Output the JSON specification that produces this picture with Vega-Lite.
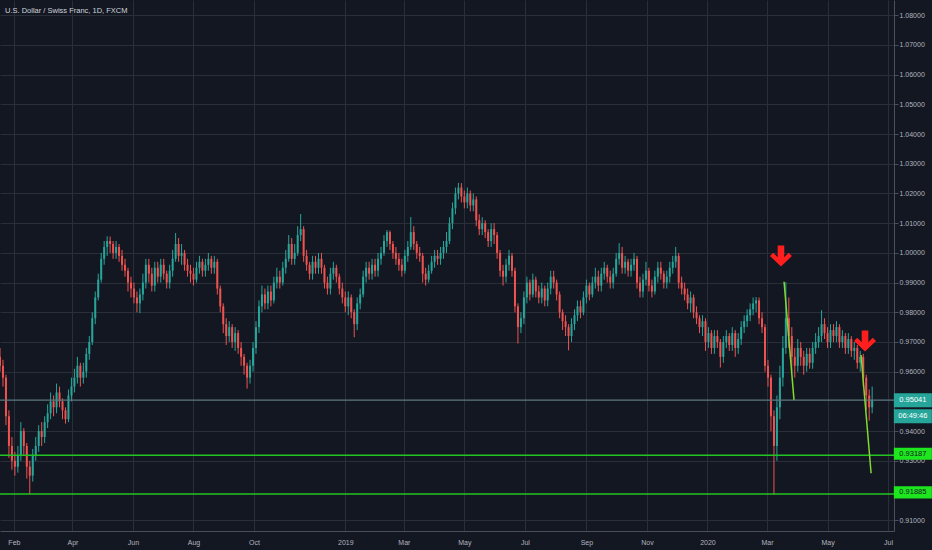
{
"$schema":"https://vega.github.io/schema/vega-lite/v6.json",
"width":894,"height":531,
"autosize":{"type":"none"},
"padding":{"left":0,"top":0,"right":38,"bottom":19},
"background":"#131722",
"config":{"view":{"stroke":null},"font":"Liberation Sans","axis":{"labelOverlap":false,"labelSeparation":0}},
"datasets":{
"candles":[
{"d":"2018-01-18","o":0.965,"h":0.968,"l":0.96,"c":0.962},
{"d":"2018-01-21","o":0.962,"h":0.964,"l":0.955,"c":0.958},
{"d":"2018-01-24","o":0.958,"h":0.959,"l":0.942,"c":0.945},
{"d":"2018-01-27","o":0.945,"h":0.947,"l":0.931,"c":0.935},
{"d":"2018-01-30","o":0.935,"h":0.938,"l":0.927,"c":0.93},
{"d":"2018-02-02","o":0.93,"h":0.933,"l":0.925,"c":0.928},
{"d":"2018-02-05","o":0.928,"h":0.935,"l":0.926,"c":0.932},
{"d":"2018-02-08","o":0.932,"h":0.943,"l":0.93,"c":0.94},
{"d":"2018-02-11","o":0.94,"h":0.941,"l":0.932,"c":0.935},
{"d":"2018-02-14","o":0.935,"h":0.936,"l":0.924,"c":0.928},
{"d":"2018-02-17","o":0.928,"h":0.93,"l":0.9188,"c":0.925},
{"d":"2018-02-20","o":0.925,"h":0.934,"l":0.923,"c":0.932},
{"d":"2018-02-23","o":0.932,"h":0.938,"l":0.93,"c":0.935},
{"d":"2018-02-26","o":0.935,"h":0.942,"l":0.933,"c":0.94},
{"d":"2018-03-01","o":0.94,"h":0.943,"l":0.935,"c":0.938},
{"d":"2018-03-04","o":0.938,"h":0.945,"l":0.936,"c":0.943},
{"d":"2018-03-07","o":0.943,"h":0.949,"l":0.941,"c":0.946},
{"d":"2018-03-10","o":0.946,"h":0.953,"l":0.944,"c":0.95},
{"d":"2018-03-13","o":0.95,"h":0.952,"l":0.945,"c":0.948},
{"d":"2018-03-16","o":0.948,"h":0.956,"l":0.946,"c":0.953},
{"d":"2018-03-19","o":0.953,"h":0.955,"l":0.948,"c":0.95},
{"d":"2018-03-22","o":0.95,"h":0.951,"l":0.944,"c":0.947},
{"d":"2018-03-25","o":0.947,"h":0.948,"l":0.9425,"c":0.944},
{"d":"2018-03-28","o":0.944,"h":0.954,"l":0.943,"c":0.952},
{"d":"2018-03-31","o":0.952,"h":0.958,"l":0.95,"c":0.955},
{"d":"2018-04-03","o":0.955,"h":0.961,"l":0.953,"c":0.958},
{"d":"2018-04-06","o":0.958,"h":0.965,"l":0.956,"c":0.962},
{"d":"2018-04-09","o":0.962,"h":0.963,"l":0.955,"c":0.958},
{"d":"2018-04-12","o":0.958,"h":0.963,"l":0.956,"c":0.96},
{"d":"2018-04-15","o":0.96,"h":0.968,"l":0.958,"c":0.966},
{"d":"2018-04-18","o":0.966,"h":0.972,"l":0.964,"c":0.97},
{"d":"2018-04-21","o":0.97,"h":0.98,"l":0.969,"c":0.978},
{"d":"2018-04-24","o":0.978,"h":0.987,"l":0.976,"c":0.985},
{"d":"2018-04-27","o":0.985,"h":0.993,"l":0.984,"c":0.991},
{"d":"2018-04-30","o":0.991,"h":1.0,"l":0.99,"c":0.998},
{"d":"2018-05-03","o":0.998,"h":1.004,"l":0.996,"c":1.002},
{"d":"2018-05-06","o":1.002,"h":1.0056,"l":0.999,"c":1.004},
{"d":"2018-05-09","o":1.004,"h":1.0055,"l":1.0,"c":1.003},
{"d":"2018-05-12","o":1.003,"h":1.004,"l":0.998,"c":1.0},
{"d":"2018-05-15","o":1.0,"h":1.004,"l":0.998,"c":1.002},
{"d":"2018-05-18","o":1.002,"h":1.003,"l":0.997,"c":0.999},
{"d":"2018-05-21","o":0.999,"h":1.001,"l":0.994,"c":0.996},
{"d":"2018-05-24","o":0.996,"h":0.998,"l":0.992,"c":0.994},
{"d":"2018-05-27","o":0.994,"h":0.995,"l":0.987,"c":0.99},
{"d":"2018-05-30","o":0.99,"h":0.992,"l":0.985,"c":0.988},
{"d":"2018-06-02","o":0.988,"h":0.99,"l":0.983,"c":0.985},
{"d":"2018-06-05","o":0.985,"h":0.987,"l":0.98,"c":0.983},
{"d":"2018-06-08","o":0.983,"h":0.988,"l":0.9797,"c":0.986},
{"d":"2018-06-11","o":0.986,"h":0.993,"l":0.984,"c":0.99},
{"d":"2018-06-14","o":0.99,"h":0.998,"l":0.988,"c":0.996},
{"d":"2018-06-17","o":0.996,"h":0.998,"l":0.99,"c":0.993},
{"d":"2018-06-20","o":0.993,"h":0.995,"l":0.987,"c":0.989},
{"d":"2018-06-23","o":0.989,"h":0.997,"l":0.987,"c":0.995},
{"d":"2018-06-26","o":0.995,"h":0.997,"l":0.99,"c":0.992},
{"d":"2018-06-29","o":0.992,"h":0.998,"l":0.99,"c":0.996},
{"d":"2018-07-02","o":0.996,"h":0.998,"l":0.991,"c":0.993},
{"d":"2018-07-05","o":0.993,"h":0.994,"l":0.988,"c":0.99},
{"d":"2018-07-08","o":0.99,"h":0.996,"l":0.988,"c":0.994},
{"d":"2018-07-11","o":0.994,"h":1.001,"l":0.992,"c":0.998},
{"d":"2018-07-14","o":0.998,"h":1.0067,"l":0.997,"c":1.003},
{"d":"2018-07-17","o":1.003,"h":1.005,"l":0.997,"c":0.999},
{"d":"2018-07-20","o":0.999,"h":1.003,"l":0.996,"c":1.0},
{"d":"2018-07-23","o":1.0,"h":1.001,"l":0.994,"c":0.996},
{"d":"2018-07-26","o":0.996,"h":0.998,"l":0.992,"c":0.994},
{"d":"2018-07-29","o":0.994,"h":0.996,"l":0.99,"c":0.993},
{"d":"2018-08-01","o":0.993,"h":0.995,"l":0.989,"c":0.991},
{"d":"2018-08-04","o":0.991,"h":0.997,"l":0.99,"c":0.995},
{"d":"2018-08-07","o":0.995,"h":0.999,"l":0.993,"c":0.997},
{"d":"2018-08-10","o":0.997,"h":0.998,"l":0.992,"c":0.994},
{"d":"2018-08-13","o":0.994,"h":0.998,"l":0.992,"c":0.996},
{"d":"2018-08-16","o":0.996,"h":1.0,"l":0.994,"c":0.998},
{"d":"2018-08-19","o":0.998,"h":0.999,"l":0.993,"c":0.995},
{"d":"2018-08-22","o":0.995,"h":0.999,"l":0.993,"c":0.997},
{"d":"2018-08-25","o":0.997,"h":0.998,"l":0.986,"c":0.988},
{"d":"2018-08-28","o":0.988,"h":0.989,"l":0.98,"c":0.982},
{"d":"2018-08-31","o":0.982,"h":0.983,"l":0.973,"c":0.976},
{"d":"2018-09-03","o":0.976,"h":0.978,"l":0.969,"c":0.972},
{"d":"2018-09-06","o":0.972,"h":0.977,"l":0.97,"c":0.975},
{"d":"2018-09-09","o":0.975,"h":0.976,"l":0.968,"c":0.97},
{"d":"2018-09-12","o":0.97,"h":0.975,"l":0.967,"c":0.973},
{"d":"2018-09-15","o":0.973,"h":0.974,"l":0.966,"c":0.968},
{"d":"2018-09-18","o":0.968,"h":0.97,"l":0.962,"c":0.965},
{"d":"2018-09-21","o":0.965,"h":0.966,"l":0.959,"c":0.962},
{"d":"2018-09-24","o":0.962,"h":0.963,"l":0.9543,"c":0.958},
{"d":"2018-09-27","o":0.958,"h":0.964,"l":0.956,"c":0.962},
{"d":"2018-09-30","o":0.962,"h":0.97,"l":0.96,"c":0.968},
{"d":"2018-10-03","o":0.968,"h":0.977,"l":0.966,"c":0.975},
{"d":"2018-10-06","o":0.975,"h":0.984,"l":0.973,"c":0.982},
{"d":"2018-10-09","o":0.982,"h":0.989,"l":0.98,"c":0.986},
{"d":"2018-10-12","o":0.986,"h":0.988,"l":0.981,"c":0.983},
{"d":"2018-10-15","o":0.983,"h":0.989,"l":0.981,"c":0.987},
{"d":"2018-10-18","o":0.987,"h":0.989,"l":0.982,"c":0.984},
{"d":"2018-10-21","o":0.984,"h":0.992,"l":0.983,"c":0.99},
{"d":"2018-10-24","o":0.99,"h":0.995,"l":0.988,"c":0.992},
{"d":"2018-10-27","o":0.992,"h":0.994,"l":0.988,"c":0.99},
{"d":"2018-10-30","o":0.99,"h":0.997,"l":0.989,"c":0.995},
{"d":"2018-11-02","o":0.995,"h":1.001,"l":0.993,"c":0.998},
{"d":"2018-11-05","o":0.998,"h":1.006,"l":0.997,"c":1.003},
{"d":"2018-11-08","o":1.003,"h":1.005,"l":0.996,"c":0.998},
{"d":"2018-11-11","o":0.998,"h":1.003,"l":0.996,"c":1.0},
{"d":"2018-11-14","o":1.0,"h":1.009,"l":0.999,"c":1.006},
{"d":"2018-11-17","o":1.006,"h":1.0131,"l":1.004,"c":1.008},
{"d":"2018-11-20","o":1.008,"h":1.009,"l":0.997,"c":0.999},
{"d":"2018-11-23","o":0.999,"h":1.001,"l":0.994,"c":0.996},
{"d":"2018-11-26","o":0.996,"h":0.997,"l":0.991,"c":0.993},
{"d":"2018-11-29","o":0.993,"h":0.999,"l":0.991,"c":0.997},
{"d":"2018-12-02","o":0.997,"h":0.999,"l":0.993,"c":0.995},
{"d":"2018-12-05","o":0.995,"h":1.0,"l":0.993,"c":0.998},
{"d":"2018-12-08","o":0.998,"h":1.0,"l":0.993,"c":0.995},
{"d":"2018-12-11","o":0.995,"h":0.996,"l":0.988,"c":0.99},
{"d":"2018-12-14","o":0.99,"h":0.992,"l":0.986,"c":0.988},
{"d":"2018-12-17","o":0.988,"h":0.995,"l":0.986,"c":0.993},
{"d":"2018-12-20","o":0.993,"h":0.997,"l":0.991,"c":0.995},
{"d":"2018-12-23","o":0.995,"h":0.996,"l":0.99,"c":0.992},
{"d":"2018-12-26","o":0.992,"h":0.993,"l":0.986,"c":0.988},
{"d":"2018-12-29","o":0.988,"h":0.99,"l":0.983,"c":0.985},
{"d":"2019-01-01","o":0.985,"h":0.987,"l":0.98,"c":0.982},
{"d":"2019-01-04","o":0.982,"h":0.987,"l":0.979,"c":0.985},
{"d":"2019-01-07","o":0.985,"h":0.986,"l":0.978,"c":0.98},
{"d":"2019-01-10","o":0.98,"h":0.981,"l":0.9716,"c":0.976},
{"d":"2019-01-13","o":0.976,"h":0.985,"l":0.974,"c":0.983},
{"d":"2019-01-16","o":0.983,"h":0.988,"l":0.981,"c":0.986},
{"d":"2019-01-19","o":0.986,"h":0.994,"l":0.985,"c":0.992},
{"d":"2019-01-22","o":0.992,"h":0.997,"l":0.99,"c":0.995},
{"d":"2019-01-25","o":0.995,"h":0.997,"l":0.991,"c":0.993},
{"d":"2019-01-28","o":0.993,"h":0.998,"l":0.991,"c":0.996},
{"d":"2019-01-31","o":0.996,"h":0.998,"l":0.992,"c":0.994},
{"d":"2019-02-03","o":0.994,"h":1.0,"l":0.992,"c":0.998},
{"d":"2019-02-06","o":0.998,"h":1.002,"l":0.996,"c":1.0},
{"d":"2019-02-09","o":1.0,"h":1.006,"l":0.999,"c":1.004},
{"d":"2019-02-12","o":1.004,"h":1.0077,"l":1.002,"c":1.007},
{"d":"2019-02-15","o":1.007,"h":1.0075,"l":1.001,"c":1.003},
{"d":"2019-02-18","o":1.003,"h":1.004,"l":0.998,"c":1.0},
{"d":"2019-02-21","o":1.0,"h":1.002,"l":0.996,"c":0.998},
{"d":"2019-02-24","o":0.998,"h":1.0,"l":0.994,"c":0.996},
{"d":"2019-02-27","o":0.996,"h":0.998,"l":0.992,"c":0.994},
{"d":"2019-03-02","o":0.994,"h":1.001,"l":0.993,"c":0.999},
{"d":"2019-03-05","o":0.999,"h":1.004,"l":0.997,"c":1.002},
{"d":"2019-03-08","o":1.002,"h":1.0121,"l":1.001,"c":1.007},
{"d":"2019-03-11","o":1.007,"h":1.009,"l":1.001,"c":1.003},
{"d":"2019-03-14","o":1.003,"h":1.004,"l":0.998,"c":1.0},
{"d":"2019-03-17","o":1.0,"h":1.002,"l":0.997,"c":0.999},
{"d":"2019-03-20","o":0.999,"h":1.0,"l":0.99,"c":0.993},
{"d":"2019-03-23","o":0.993,"h":0.995,"l":0.989,"c":0.991},
{"d":"2019-03-26","o":0.991,"h":0.996,"l":0.99,"c":0.994},
{"d":"2019-03-29","o":0.994,"h":0.999,"l":0.993,"c":0.997},
{"d":"2019-04-01","o":0.997,"h":1.001,"l":0.995,"c":0.999},
{"d":"2019-04-04","o":0.999,"h":1.001,"l":0.996,"c":0.998},
{"d":"2019-04-07","o":0.998,"h":1.002,"l":0.996,"c":1.0},
{"d":"2019-04-10","o":1.0,"h":1.004,"l":0.998,"c":1.002},
{"d":"2019-04-13","o":1.002,"h":1.007,"l":1.0,"c":1.004},
{"d":"2019-04-16","o":1.004,"h":1.012,"l":1.003,"c":1.01},
{"d":"2019-04-19","o":1.01,"h":1.017,"l":1.008,"c":1.015},
{"d":"2019-04-22","o":1.015,"h":1.022,"l":1.013,"c":1.02},
{"d":"2019-04-25","o":1.02,"h":1.0236,"l":1.018,"c":1.022},
{"d":"2019-04-28","o":1.022,"h":1.0235,"l":1.017,"c":1.019},
{"d":"2019-05-01","o":1.019,"h":1.021,"l":1.015,"c":1.017},
{"d":"2019-05-04","o":1.017,"h":1.022,"l":1.015,"c":1.02},
{"d":"2019-05-07","o":1.02,"h":1.021,"l":1.014,"c":1.016},
{"d":"2019-05-10","o":1.016,"h":1.02,"l":1.014,"c":1.018},
{"d":"2019-05-13","o":1.018,"h":1.019,"l":1.009,"c":1.011},
{"d":"2019-05-16","o":1.011,"h":1.013,"l":1.006,"c":1.008},
{"d":"2019-05-19","o":1.008,"h":1.012,"l":1.006,"c":1.01},
{"d":"2019-05-22","o":1.01,"h":1.011,"l":1.005,"c":1.007},
{"d":"2019-05-25","o":1.007,"h":1.008,"l":1.002,"c":1.004},
{"d":"2019-05-28","o":1.004,"h":1.01,"l":1.002,"c":1.008},
{"d":"2019-05-31","o":1.008,"h":1.01,"l":1.003,"c":1.006},
{"d":"2019-06-03","o":1.006,"h":1.007,"l":0.998,"c":1.0},
{"d":"2019-06-06","o":1.0,"h":1.001,"l":0.992,"c":0.994},
{"d":"2019-06-09","o":0.994,"h":0.996,"l":0.989,"c":0.992},
{"d":"2019-06-12","o":0.992,"h":0.998,"l":0.99,"c":0.996},
{"d":"2019-06-15","o":0.996,"h":1.001,"l":0.994,"c":0.999},
{"d":"2019-06-18","o":0.999,"h":1.0,"l":0.992,"c":0.994},
{"d":"2019-06-21","o":0.994,"h":0.995,"l":0.98,"c":0.982},
{"d":"2019-06-24","o":0.982,"h":0.983,"l":0.9695,"c":0.975},
{"d":"2019-06-27","o":0.975,"h":0.98,"l":0.973,"c":0.978},
{"d":"2019-06-30","o":0.978,"h":0.987,"l":0.976,"c":0.985},
{"d":"2019-07-03","o":0.985,"h":0.992,"l":0.983,"c":0.99},
{"d":"2019-07-06","o":0.99,"h":0.991,"l":0.984,"c":0.986},
{"d":"2019-07-09","o":0.986,"h":0.993,"l":0.985,"c":0.991},
{"d":"2019-07-12","o":0.991,"h":0.992,"l":0.985,"c":0.987},
{"d":"2019-07-15","o":0.987,"h":0.989,"l":0.983,"c":0.985},
{"d":"2019-07-18","o":0.985,"h":0.99,"l":0.983,"c":0.988},
{"d":"2019-07-21","o":0.988,"h":0.989,"l":0.982,"c":0.984},
{"d":"2019-07-24","o":0.984,"h":0.99,"l":0.982,"c":0.988},
{"d":"2019-07-27","o":0.988,"h":0.994,"l":0.986,"c":0.992},
{"d":"2019-07-30","o":0.992,"h":0.994,"l":0.988,"c":0.99},
{"d":"2019-08-02","o":0.99,"h":0.991,"l":0.984,"c":0.986},
{"d":"2019-08-05","o":0.986,"h":0.987,"l":0.978,"c":0.98},
{"d":"2019-08-08","o":0.98,"h":0.981,"l":0.974,"c":0.977},
{"d":"2019-08-11","o":0.977,"h":0.979,"l":0.972,"c":0.975},
{"d":"2019-08-14","o":0.975,"h":0.976,"l":0.9672,"c":0.972},
{"d":"2019-08-17","o":0.972,"h":0.978,"l":0.97,"c":0.976},
{"d":"2019-08-20","o":0.976,"h":0.981,"l":0.974,"c":0.979},
{"d":"2019-08-23","o":0.979,"h":0.984,"l":0.977,"c":0.982},
{"d":"2019-08-26","o":0.982,"h":0.984,"l":0.978,"c":0.98},
{"d":"2019-08-29","o":0.98,"h":0.987,"l":0.979,"c":0.985},
{"d":"2019-09-01","o":0.985,"h":0.991,"l":0.983,"c":0.989},
{"d":"2019-09-04","o":0.989,"h":0.99,"l":0.984,"c":0.986},
{"d":"2019-09-07","o":0.986,"h":0.992,"l":0.985,"c":0.99},
{"d":"2019-09-10","o":0.99,"h":0.995,"l":0.988,"c":0.992},
{"d":"2019-09-13","o":0.992,"h":0.994,"l":0.987,"c":0.989},
{"d":"2019-09-16","o":0.989,"h":0.995,"l":0.987,"c":0.993},
{"d":"2019-09-19","o":0.993,"h":0.997,"l":0.991,"c":0.995},
{"d":"2019-09-22","o":0.995,"h":0.996,"l":0.99,"c":0.992},
{"d":"2019-09-25","o":0.992,"h":0.994,"l":0.988,"c":0.99},
{"d":"2019-09-28","o":0.99,"h":0.995,"l":0.988,"c":0.993},
{"d":"2019-10-01","o":0.993,"h":1.0,"l":0.992,"c":0.998},
{"d":"2019-10-04","o":0.998,"h":1.0033,"l":0.996,"c":1.0},
{"d":"2019-10-07","o":1.0,"h":1.002,"l":0.993,"c":0.995},
{"d":"2019-10-10","o":0.995,"h":0.999,"l":0.993,"c":0.997},
{"d":"2019-10-13","o":0.997,"h":0.998,"l":0.992,"c":0.994},
{"d":"2019-10-16","o":0.994,"h":0.998,"l":0.992,"c":0.996},
{"d":"2019-10-19","o":0.996,"h":1.0,"l":0.994,"c":0.998},
{"d":"2019-10-22","o":0.998,"h":0.999,"l":0.988,"c":0.99},
{"d":"2019-10-25","o":0.99,"h":0.992,"l":0.985,"c":0.987},
{"d":"2019-10-28","o":0.987,"h":0.993,"l":0.985,"c":0.991},
{"d":"2019-10-31","o":0.991,"h":0.997,"l":0.989,"c":0.994},
{"d":"2019-11-03","o":0.994,"h":0.995,"l":0.987,"c":0.989},
{"d":"2019-11-06","o":0.989,"h":0.991,"l":0.985,"c":0.987},
{"d":"2019-11-09","o":0.987,"h":0.994,"l":0.986,"c":0.992},
{"d":"2019-11-12","o":0.992,"h":0.997,"l":0.99,"c":0.995},
{"d":"2019-11-15","o":0.995,"h":0.997,"l":0.991,"c":0.993},
{"d":"2019-11-18","o":0.993,"h":0.994,"l":0.988,"c":0.99},
{"d":"2019-11-21","o":0.99,"h":0.994,"l":0.988,"c":0.992},
{"d":"2019-11-24","o":0.992,"h":0.997,"l":0.99,"c":0.995},
{"d":"2019-11-27","o":0.995,"h":0.999,"l":0.993,"c":0.997},
{"d":"2019-11-30","o":0.997,"h":1.002,"l":0.995,"c":0.999},
{"d":"2019-12-03","o":0.999,"h":1.0,"l":0.988,"c":0.99},
{"d":"2019-12-06","o":0.99,"h":0.992,"l":0.986,"c":0.988},
{"d":"2019-12-09","o":0.988,"h":0.99,"l":0.984,"c":0.986},
{"d":"2019-12-12","o":0.986,"h":0.988,"l":0.981,"c":0.983},
{"d":"2019-12-15","o":0.983,"h":0.987,"l":0.98,"c":0.985},
{"d":"2019-12-18","o":0.985,"h":0.986,"l":0.978,"c":0.98},
{"d":"2019-12-21","o":0.98,"h":0.982,"l":0.976,"c":0.978},
{"d":"2019-12-24","o":0.978,"h":0.979,"l":0.973,"c":0.975},
{"d":"2019-12-27","o":0.975,"h":0.979,"l":0.972,"c":0.977},
{"d":"2019-12-30","o":0.977,"h":0.978,"l":0.967,"c":0.97},
{"d":"2020-01-02","o":0.97,"h":0.975,"l":0.968,"c":0.973},
{"d":"2020-01-05","o":0.973,"h":0.974,"l":0.966,"c":0.968},
{"d":"2020-01-08","o":0.968,"h":0.974,"l":0.966,"c":0.972},
{"d":"2020-01-11","o":0.972,"h":0.974,"l":0.968,"c":0.97},
{"d":"2020-01-14","o":0.97,"h":0.971,"l":0.9614,"c":0.965},
{"d":"2020-01-17","o":0.965,"h":0.972,"l":0.963,"c":0.97},
{"d":"2020-01-20","o":0.97,"h":0.974,"l":0.968,"c":0.972},
{"d":"2020-01-23","o":0.972,"h":0.973,"l":0.967,"c":0.969},
{"d":"2020-01-26","o":0.969,"h":0.975,"l":0.967,"c":0.973},
{"d":"2020-01-29","o":0.973,"h":0.974,"l":0.965,"c":0.968},
{"d":"2020-02-01","o":0.968,"h":0.973,"l":0.966,"c":0.971},
{"d":"2020-02-04","o":0.971,"h":0.977,"l":0.969,"c":0.975},
{"d":"2020-02-07","o":0.975,"h":0.979,"l":0.973,"c":0.977},
{"d":"2020-02-10","o":0.977,"h":0.981,"l":0.975,"c":0.979},
{"d":"2020-02-13","o":0.979,"h":0.983,"l":0.977,"c":0.981},
{"d":"2020-02-16","o":0.981,"h":0.985,"l":0.979,"c":0.983},
{"d":"2020-02-19","o":0.983,"h":0.9851,"l":0.98,"c":0.984},
{"d":"2020-02-22","o":0.984,"h":0.985,"l":0.976,"c":0.978},
{"d":"2020-02-25","o":0.978,"h":0.98,"l":0.973,"c":0.975},
{"d":"2020-02-28","o":0.975,"h":0.976,"l":0.96,"c":0.962},
{"d":"2020-03-02","o":0.962,"h":0.964,"l":0.955,"c":0.958},
{"d":"2020-03-05","o":0.958,"h":0.959,"l":0.94,"c":0.945},
{"d":"2020-03-08","o":0.945,"h":0.947,"l":0.9185,"c":0.935},
{"d":"2020-03-11","o":0.935,"h":0.952,"l":0.93,"c":0.948},
{"d":"2020-03-14","o":0.948,"h":0.962,"l":0.944,"c":0.958},
{"d":"2020-03-17","o":0.958,"h":0.972,"l":0.955,"c":0.968},
{"d":"2020-03-20","o":0.968,"h":0.9901,"l":0.966,"c":0.978},
{"d":"2020-03-23","o":0.978,"h":0.985,"l":0.968,"c":0.972},
{"d":"2020-03-26","o":0.972,"h":0.975,"l":0.96,"c":0.965},
{"d":"2020-03-29","o":0.965,"h":0.968,"l":0.958,"c":0.962},
{"d":"2020-04-01","o":0.962,"h":0.971,"l":0.96,"c":0.968},
{"d":"2020-04-04","o":0.968,"h":0.97,"l":0.962,"c":0.965},
{"d":"2020-04-07","o":0.965,"h":0.967,"l":0.959,"c":0.962},
{"d":"2020-04-10","o":0.962,"h":0.968,"l":0.96,"c":0.966},
{"d":"2020-04-13","o":0.966,"h":0.968,"l":0.961,"c":0.963},
{"d":"2020-04-16","o":0.963,"h":0.97,"l":0.961,"c":0.968},
{"d":"2020-04-19","o":0.968,"h":0.973,"l":0.966,"c":0.97},
{"d":"2020-04-22","o":0.97,"h":0.975,"l":0.968,"c":0.972},
{"d":"2020-04-25","o":0.972,"h":0.9807,"l":0.97,"c":0.976},
{"d":"2020-04-28","o":0.976,"h":0.978,"l":0.971,"c":0.973},
{"d":"2020-05-01","o":0.973,"h":0.975,"l":0.968,"c":0.97},
{"d":"2020-05-04","o":0.97,"h":0.976,"l":0.968,"c":0.974},
{"d":"2020-05-07","o":0.974,"h":0.976,"l":0.97,"c":0.972},
{"d":"2020-05-10","o":0.972,"h":0.977,"l":0.97,"c":0.975},
{"d":"2020-05-13","o":0.975,"h":0.976,"l":0.968,"c":0.97},
{"d":"2020-05-16","o":0.97,"h":0.974,"l":0.968,"c":0.972},
{"d":"2020-05-19","o":0.972,"h":0.973,"l":0.966,"c":0.968},
{"d":"2020-05-22","o":0.968,"h":0.973,"l":0.966,"c":0.971},
{"d":"2020-05-25","o":0.971,"h":0.972,"l":0.965,"c":0.967},
{"d":"2020-05-28","o":0.967,"h":0.97,"l":0.964,"c":0.968},
{"d":"2020-05-31","o":0.968,"h":0.969,"l":0.961,"c":0.963},
{"d":"2020-06-03","o":0.963,"h":0.967,"l":0.96,"c":0.965},
{"d":"2020-06-06","o":0.965,"h":0.966,"l":0.955,"c":0.958},
{"d":"2020-06-09","o":0.958,"h":0.959,"l":0.947,"c":0.952},
{"d":"2020-06-12","o":0.952,"h":0.954,"l":0.9435,"c":0.948},
{"d":"2020-06-15","o":0.948,"h":0.955,"l":0.946,"c":0.95041}
],
"last":[{"p":0.95041,"t":"0.95041","cd":"06:49:46"}],
"levels":[{"p":0.93187,"t":"0.93187"},{"p":0.91885,"t":"0.91885"}],
"trend":[
{"g":1,"d":"2020-03-18T05:00:00","p":0.9903},
{"g":1,"d":"2020-03-28T05:00:00","p":0.9505},
{"g":2,"d":"2020-06-03T19:00:00","p":0.9656},
{"g":2,"d":"2020-06-13T22:00:00","p":0.9258}
],
"arrows":[{"d":"2020-03-15T02:00:00","p":0.99896},{"d":"2020-06-07T19:00:00","p":0.97034}],
"heading":[{"d":"2018-01-23","p":1.08155,"t":"U.S. Dollar / Swiss Franc, 1D, FXCM"}]
},
"layer":[
{"data":{"name":"candles"},"mark":{"type":"rule","strokeWidth":1},
 "encoding":{
  "x":{"field":"d","type":"temporal","title":null,"scale":{"domain":[{"year":2018,"month":1,"date":18},{"year":2020,"month":7,"date":7}],"padding":0,"nice":false},
   "axis":{"values":[{"year":2018,"month":2,"date":1},{"year":2018,"month":4,"date":1},{"year":2018,"month":6,"date":1},{"year":2018,"month":8,"date":1},{"year":2018,"month":10,"date":1},{"year":2019,"month":1,"date":1},{"year":2019,"month":3,"date":1},{"year":2019,"month":5,"date":1},{"year":2019,"month":7,"date":1},{"year":2019,"month":9,"date":1},{"year":2019,"month":11,"date":1},{"year":2020,"month":1,"date":1},{"year":2020,"month":3,"date":1},{"year":2020,"month":5,"date":1},{"year":2020,"month":7,"date":1}],
    "tickCount":40,
    "labelExpr":"month(datum.value) == 0 ? timeFormat(datum.value, '%Y') : timeFormat(datum.value, '%b')",
    "title":null,"grid":true,"gridColor":"#2a2e39","gridWidth":1,"domain":true,"domainColor":"#4b4f5a","ticks":false,"tickSize":0,"labelPadding":7,"labelBaseline":"top","labelColor":"#b2b5be","labelFontSize":7,"labelFont":"Liberation Sans","labelFlush":false,"labelOverlap":false}},
  "y":{"field":"l","type":"quantitative","title":null,"scale":{"domain":[0.90636,1.08515],"nice":false,"zero":false,"padding":0},
   "axis":{"orient":"right","values":[0.91,0.93,0.94,0.96,0.97,0.98,0.99,1.0,1.01,1.02,1.03,1.04,1.05,1.06,1.07,1.08],"tickCount":40,"format":".5f","title":null,"grid":true,"gridColor":"#2a2e39","gridWidth":1,"domain":true,"domainColor":"#4b4f5a","ticks":true,"tickSize":4,"tickColor":"#4b4f5a","labelPadding":1,"labelColor":"#b2b5be","labelFontSize":7,"labelFont":"Liberation Sans","labelFlush":false,"labelOverlap":false,"labelSeparation":0}},
  "y2":{"field":"h"},
  "color":{"condition":{"test":"datum.c >= datum.o","value":"#26a69a"},"value":"#ef5350"}
 }},
{"data":{"name":"candles"},"mark":{"type":"bar","width":2},
 "encoding":{
  "x":{"field":"d","type":"temporal","title":null,"scale":{"domain":[{"year":2018,"month":1,"date":18},{"year":2020,"month":7,"date":7}],"padding":0,"nice":false}},
  "y":{"field":"o","type":"quantitative","title":null,"scale":{"domain":[0.90636,1.08515],"nice":false,"zero":false,"padding":0}},
  "y2":{"field":"c"},
  "color":{"condition":{"test":"datum.c >= datum.o","value":"#26a69a"},"value":"#ef5350"}
 }},
{"data":{"name":"last"},"mark":{"type":"rule","color":"#5e7a80","strokeWidth":1.4},
 "encoding":{"y":{"field":"p","type":"quantitative","title":null,"scale":{"domain":[0.90636,1.08515],"nice":false,"zero":false,"padding":0}}}},
{"data":{"name":"levels"},"mark":{"type":"rule","color":"#22c422","strokeWidth":1.5},
 "encoding":{"y":{"field":"p","type":"quantitative","title":null,"scale":{"domain":[0.90636,1.08515],"nice":false,"zero":false,"padding":0}}}},
{"data":{"name":"trend"},"mark":{"type":"line","color":"#84d92f","strokeWidth":1.5},
 "encoding":{
  "x":{"field":"d","type":"temporal","title":null,"scale":{"domain":[{"year":2018,"month":1,"date":18},{"year":2020,"month":7,"date":7}],"padding":0,"nice":false}},
  "y":{"field":"p","type":"quantitative","title":null,"scale":{"domain":[0.90636,1.08515],"nice":false,"zero":false,"padding":0}},
  "detail":{"field":"g","type":"nominal"}
 }},
{"data":{"name":"arrows"},"mark":{"type":"point","shape":"M-0.3,-0.95L0.3,-0.95L0.3,0.12L0.7,-0.3L1,0L0,0.95L-1,0L-0.7,-0.3L-0.3,0.12Z","size":484,"filled":true,"fill":"#ff1e1e","strokeWidth":0,"opacity":1},
 "encoding":{
  "x":{"field":"d","type":"temporal","title":null,"scale":{"domain":[{"year":2018,"month":1,"date":18},{"year":2020,"month":7,"date":7}],"padding":0,"nice":false}},
  "y":{"field":"p","type":"quantitative","title":null,"scale":{"domain":[0.90636,1.08515],"nice":false,"zero":false,"padding":0}}
 }},
{"data":{"name":"last"},"mark":{"type":"point","shape":"M-1,-0.37L1,-0.37L1,0.37L-1,0.37Z","size":1444,"filled":true,"fill":"#26a69a","strokeWidth":0,"opacity":1},
 "encoding":{
  "x":{"datum":{"year":2020,"month":7,"date":26},"type":"temporal","title":null,"scale":{"domain":[{"year":2018,"month":1,"date":18},{"year":2020,"month":7,"date":7}],"padding":0,"nice":false}},
  "y":{"field":"p","type":"quantitative","title":null,"scale":{"domain":[0.90636,1.08515],"nice":false,"zero":false,"padding":0}}
 }},
{"data":{"name":"last"},"mark":{"type":"point","shape":"M-1,-0.37L1,-0.37L1,0.37L-1,0.37Z","size":1444,"filled":true,"fill":"#26a69a","strokeWidth":0,"opacity":1,"yOffset":16},
 "encoding":{
  "x":{"datum":{"year":2020,"month":7,"date":26},"type":"temporal","title":null,"scale":{"domain":[{"year":2018,"month":1,"date":18},{"year":2020,"month":7,"date":7}],"padding":0,"nice":false}},
  "y":{"field":"p","type":"quantitative","title":null,"scale":{"domain":[0.90636,1.08515],"nice":false,"zero":false,"padding":0}}
 }},
{"data":{"name":"levels"},"mark":{"type":"point","shape":"M-1,-0.32L1,-0.32L1,0.32L-1,0.32Z","size":1444,"filled":true,"fill":"#1ee61e","strokeWidth":0,"opacity":1,"yOffset":-1.5},
 "encoding":{
  "x":{"datum":{"year":2020,"month":7,"date":26},"type":"temporal","title":null,"scale":{"domain":[{"year":2018,"month":1,"date":18},{"year":2020,"month":7,"date":7}],"padding":0,"nice":false}},
  "y":{"field":"p","type":"quantitative","title":null,"scale":{"domain":[0.90636,1.08515],"nice":false,"zero":false,"padding":0}}
 }},
{"data":{"name":"last"},"mark":{"type":"text","color":"#ffffff","fontSize":7.5,"font":"Liberation Sans","align":"center","baseline":"middle"},
 "encoding":{
  "x":{"datum":{"year":2020,"month":7,"date":26},"type":"temporal","title":null,"scale":{"domain":[{"year":2018,"month":1,"date":18},{"year":2020,"month":7,"date":7}],"padding":0,"nice":false}},
  "y":{"field":"p","type":"quantitative","title":null,"scale":{"domain":[0.90636,1.08515],"nice":false,"zero":false,"padding":0}},
  "text":{"field":"t"}
 }},
{"data":{"name":"last"},"mark":{"type":"text","color":"#ffffff","fontSize":7.5,"font":"Liberation Sans","align":"center","baseline":"middle","yOffset":16},
 "encoding":{
  "x":{"datum":{"year":2020,"month":7,"date":26},"type":"temporal","title":null,"scale":{"domain":[{"year":2018,"month":1,"date":18},{"year":2020,"month":7,"date":7}],"padding":0,"nice":false}},
  "y":{"field":"p","type":"quantitative","title":null,"scale":{"domain":[0.90636,1.08515],"nice":false,"zero":false,"padding":0}},
  "text":{"field":"cd"}
 }},
{"data":{"name":"levels"},"mark":{"type":"text","color":"#131722","fontSize":7.5,"font":"Liberation Sans","align":"center","baseline":"middle","yOffset":-1.5},
 "encoding":{
  "x":{"datum":{"year":2020,"month":7,"date":26},"type":"temporal","title":null,"scale":{"domain":[{"year":2018,"month":1,"date":18},{"year":2020,"month":7,"date":7}],"padding":0,"nice":false}},
  "y":{"field":"p","type":"quantitative","title":null,"scale":{"domain":[0.90636,1.08515],"nice":false,"zero":false,"padding":0}},
  "text":{"field":"t"}
 }},
{"data":{"name":"heading"},"mark":{"type":"text","color":"#d1d4dc","fontSize":7.5,"font":"Liberation Sans","align":"left","baseline":"middle"},
 "encoding":{
  "x":{"field":"d","type":"temporal","title":null,"scale":{"domain":[{"year":2018,"month":1,"date":18},{"year":2020,"month":7,"date":7}],"padding":0,"nice":false}},
  "y":{"field":"p","type":"quantitative","title":null,"scale":{"domain":[0.90636,1.08515],"nice":false,"zero":false,"padding":0}},
  "text":{"field":"t"}
 }}
]
}
